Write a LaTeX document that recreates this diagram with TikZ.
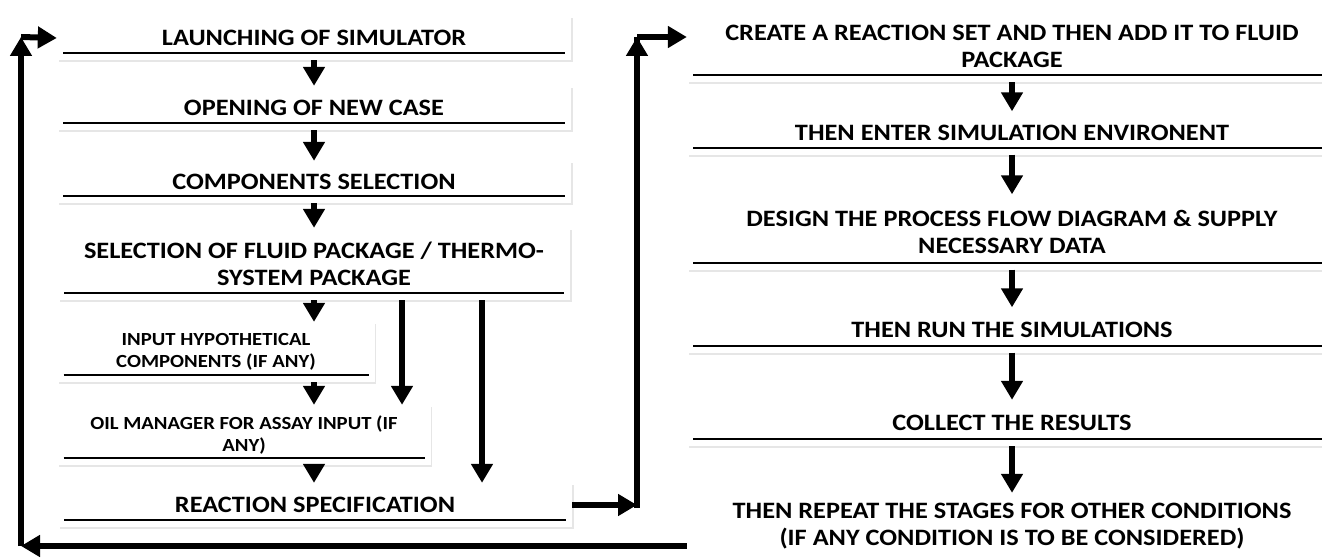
\documentclass[tikz,border=0pt]{standalone}
\usepackage{fontspec}
\setmainfont{Carlito}[FakeStretch=1.12]
\usetikzlibrary{arrows.meta,shadows}
\begin{document}
\begin{tikzpicture}[x=1pt, y=-1pt,
    stage/.style={rectangle, fill=white, inner sep=0pt, align=center,
      font=\fontsize{23.5}{27}\selectfont\bfseries,
      drop shadow={shadow xshift=1.5pt, shadow yshift=-2pt, opacity=0.2},
      path picture={\draw[line width=2pt]
        ([xshift=6pt,yshift=7pt]path picture bounding box.south west) --
        ([xshift=-6pt,yshift=7pt]path picture bounding box.south east);}},
    smalltext/.style={font=\fontsize{18.5}{22}\selectfont\bfseries},
    flow/.style={line width=6pt, -{Triangle[width=21pt,length=19pt]}}]
  \useasboundingbox (0,0) rectangle (1322,559);

  % Left column
  \node[stage, minimum width=514pt, minimum height=44pt] (launch) at (314,38) {LAUNCHING OF SIMULATOR};
  \node[stage, minimum width=514pt, minimum height=44pt] (newcase) at (314,108) {OPENING OF NEW CASE};
  \node[stage, minimum width=514pt, minimum height=42pt] (comps) at (314,182) {COMPONENTS SELECTION};
  \node[stage, minimum width=512pt, minimum height=72pt] (fluid) at (314,264) {SELECTION OF FLUID PACKAGE / THERMO-\\SYSTEM PACKAGE};
  \node[stage, smalltext, minimum width=317pt, minimum height=60pt] (hypo) at (216,352) {INPUT HYPOTHETICAL\\COMPONENTS (IF ANY)};
  \node[stage, smalltext, minimum width=373pt, minimum height=60pt] (oil) at (244,435) {OIL MANAGER FOR ASSAY INPUT (IF\\ANY)};
  \node[stage, minimum width=514pt, minimum height=44pt] (react) at (315,505) {REACTION SPECIFICATION};

  % Right column
  \node[stage, minimum width=650pt, minimum height=72pt] (create) at (1012,46) {CREATE A REACTION SET AND THEN ADD IT TO FLUID\\PACKAGE};
  \node[stage, minimum width=650pt, minimum height=43pt] (enter) at (1012,133) {THEN ENTER SIMULATION ENVIRONENT};
  \node[stage, minimum width=650pt, minimum height=75pt] (design) at (1012,232) {DESIGN THE PROCESS FLOW DIAGRAM \& SUPPLY\\NECESSARY DATA};
  \node[stage, path picture={}, minimum width=650pt, minimum height=66pt] (repeat) at (1012,526) {THEN REPEAT THE STAGES FOR OTHER CONDITIONS\\(IF ANY CONDITION IS TO BE CONSIDERED)};
  \node[stage, minimum width=650pt, minimum height=45pt] (run) at (1012,330) {THEN RUN THE SIMULATIONS};
  \node[stage, minimum width=650pt, minimum height=46pt] (collect) at (1012,423) {COLLECT THE RESULTS};

  \coordinate (lc) at (21,37);
  \coordinate (lb) at (21,546);
  \coordinate (rc) at (637,37);
  \coordinate (rb) at (637,505);

  % Straight
  \draw[flow] (launch) -- (newcase);
  \draw[flow] (newcase) -- (comps);
  \draw[flow] (comps) -- (fluid);
  \draw[flow] (fluid.south) -- (fluid.south |- hypo.north);
  \draw[flow] (fluid.south |- hypo.south) -- (fluid.south |- oil.north);
  \draw[flow] (fluid.south |- oil.south) -- (fluid.south |- react.north);

  \draw[flow] (create) -- (enter);
  \draw[flow] (enter) -- (design);
  \draw[flow] (design) -- (run);
  \draw[flow] (run) -- (collect);
  \draw[flow] (collect) -- (repeat);

  % Skipping
  \draw[flow] ([xshift=88pt]fluid.south) -- ([xshift=88pt]fluid.south |- oil.north);
  \draw[flow] ([xshift=168pt]fluid.south) -- ([xshift=168pt]fluid.south |- react.north);

  % Over to the right column
  \draw[line width=6pt] ([yshift=-3pt]rb) -- (rc);
  \draw[flow] (react.east) -- (rb);
  \draw[flow] (rb) -- (rc);
  \draw[flow] (rc) -- (rc -| create.west);

  % Back to the start
  \draw[flow] (repeat.west |- lb) -- (lb);
  \draw[flow] (lb) -- (lc);
  \draw[flow] (lc) -- (launch.west);
\end{tikzpicture}
\end{document}
